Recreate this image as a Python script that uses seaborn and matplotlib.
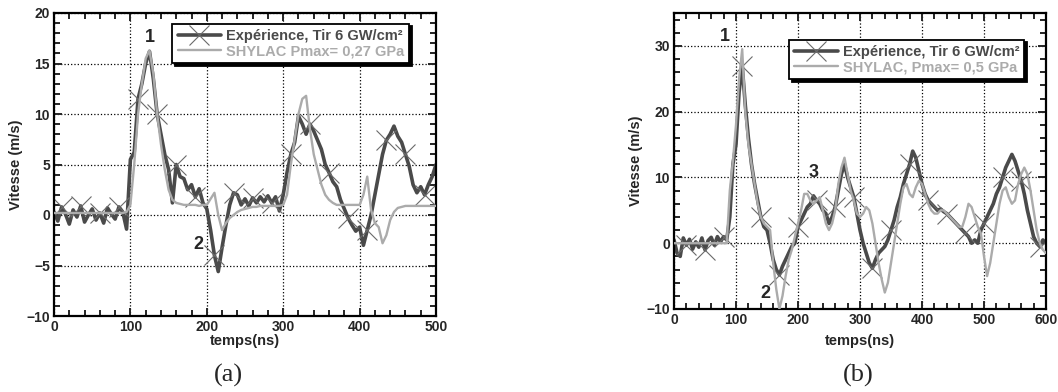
import numpy as np
import pandas as pd
import seaborn as sns
import matplotlib
matplotlib.use("Agg")
import matplotlib.pyplot as plt
from matplotlib.ticker import MultipleLocator
from matplotlib.lines import Line2D

# ---------------- data (panel a) ----------------
t_a = list(range(0, 501, 5))
exp_a = [0.3, -0.6, 0.8, 0.1, -0.9, 0.5, -0.2, 0.9, -0.7, 0.0,
         0.6, -0.5, 0.2, -0.8, 0.7, 0.1, -0.4, 0.8, 0.3, -1.4,
         5.5, 6.2, 11.5, 13.0, 15.0, 16.2, 13.5, 10.0, 8.0, 6.0,
         4.5, 1.2, 5.0, 3.8, 3.6, 2.5, 3.0, 1.8, 2.6, 1.2,
         0.6, -1.5, -4.0, -5.6, -3.2, -1.0, 1.0, 2.2, 2.0, 1.0,
         1.6, 0.9, 1.7, 1.2, 1.8, 1.3, 1.9, 1.2, 1.8, 0.4,
         2.0, 4.2, 6.0, 7.2, 9.8, 9.0, 8.0, 9.0, 8.3, 7.4,
         6.5, 5.0, 4.2, 3.3, 2.8, 1.5, 0.6, -0.3, -1.0, -1.6,
         -1.2, -3.0, -1.5, 0.0, 2.0, 4.0, 6.0, 7.4, 8.0, 8.8,
         7.8, 7.2, 6.0, 4.8, 3.0, 2.2, 2.8, 2.0, 3.0, 3.8,
         5.0]
sim_a = [0.2] * 19 + [
         0.3, 1.0, 5.0, 10.0, 13.0, 15.5, 16.3, 14.0, 10.0, 7.0,
         4.5, 2.5, 1.5, 1.2, 1.1, 1.0, 1.0, 1.0, 1.0, 0.9,
         1.0, 1.0, 1.6, 2.2, 0.0, -1.5, -0.8, -0.3, 0.0, 0.3,
         0.5, 0.6, 0.7, 0.8, 0.8, 0.9, 0.9, 0.9, 0.9, 0.9,
         0.9, 1.0, 2.0, 5.0, 7.5, 10.0, 11.5, 11.8, 8.5, 6.0,
         4.5, 3.0, 2.0, 1.5, 1.2, 1.0, 1.0, 1.0, 1.0, 1.0,
         1.0, 1.0, 2.0, 3.8, 0.5, -0.8, -1.2, -2.8, -2.0, -0.5,
         0.3, 0.7, 0.8] + [0.9] * 9

# ---------------- data (panel b) ----------------
t_b = list(range(0, 601, 5))
exp_b = [0.5, -1.5, -2.0, 0.8, -0.3, 0.6, -0.9, 0.2, -0.6, 0.8,
         -1.0, 0.4, 0.9, -0.3, 1.0, 0.2, 1.0, 0.5, 4.0, 12.0,
         15.0, 23.0, 27.0, 21.0, 16.0, 12.0, 9.0, 6.5, 4.0, 2.5,
         2.0, 0.0, -2.5, -4.0, -4.8, -3.5, -2.5, -1.5, -0.5, 0.0,
         2.5, 3.5, 4.5, 5.5, 6.0, 7.2, 6.5, 6.0, 5.0, 4.5,
         3.0, 4.0, 5.5, 8.0, 10.5, 12.0, 10.0, 8.5, 7.0, 4.5,
         2.0, 0.0, -1.5, -3.0, -3.8, -2.5, -1.5, -1.0, -0.5, 0.5,
         2.0, 3.5, 5.5, 7.0, 9.0, 10.5, 12.0, 14.0, 13.0, 11.0,
         9.0, 7.5, 6.5, 6.0, 5.5, 5.0, 5.2, 4.8, 4.5, 4.0,
         3.5, 3.0, 2.5, 2.0, 1.5, 1.0, 0.0, 0.5, 0.0, 2.0,
         3.0, 4.0, 5.0, 6.0, 7.5, 8.5, 10.0, 11.5, 12.5, 13.5,
         12.5, 11.0, 9.5, 7.5, 5.0, 3.0, 1.0, 0.0, -0.5, 0.5,
         0.0]
sim_b = [0.0] * 18 + [
         8.0, 12.5, 18.0, 25.0, 29.5, 20.0, 15.0, 12.0, 9.0, 6.0,
         4.0, 3.0, 2.5, 2.0, -3.0, -7.0, -10.0, -8.0, -5.0, -2.5,
         -1.0, 1.0, 3.0, 5.0, 7.5, 7.5, 6.5, 6.0, 6.5, 7.0,
         5.0, 3.0, 2.0, 3.0, 5.0, 9.0, 11.5, 13.0, 10.5, 8.0,
         6.5, 4.5, 4.0, 4.5, 5.5, 5.0, 3.0, 0.0, -3.0, -5.5,
         -7.5, -6.0, -3.0, 0.0, 3.0, 6.0, 8.5, 9.0, 7.5, 7.0,
         8.5, 9.5, 9.0, 7.5, 6.0, 5.0, 4.5, 4.5, 5.0, 5.0,
         4.5, 4.0, 3.5, 3.0, 2.5, 2.5, 4.0, 6.0, 5.5, 4.0,
         2.5, 1.5, -2.0, -5.0, -3.0, 0.0, 3.0, 6.0, 8.0, 8.5,
         7.0, 6.0, 6.5, 9.0, 10.5, 11.5, 10.5, 8.0, 5.0, 2.0,
         0.0, -1.0, -1.5]

labels_a = ["Expérience, Tir 6 GW/cm²", "SHYLAC Pmax= 0,27 GPa"]
labels_b = ["Expérience, Tir 6 GW/cm²", "SHYLAC, Pmax= 0,5 GPa"]
xlabel = "temps(ns)"
ylabel = "Vitesse (m/s)"

sns.set_style("ticks")
plt.rcParams["font.family"] = ["Liberation Sans", "DejaVu Sans"]
plt.rcParams["font.weight"] = "bold"

DARK = "#4a4a4a"
LIGHT = "#ababab"
MK = "#6a6a6a"

fig = plt.figure(figsize=(10.58, 3.92), dpi=100)
W, H = 1058, 392
ax_a = fig.add_axes([54 / W, (H - 316) / H, 382 / W, 303 / H])
ax_b = fig.add_axes([674 / W, (H - 309) / H, 372 / W, 296 / H])


def draw(ax, t, exp, sim, labels, xlim, ylim, xmaj, ymaj, ymin, me,
         leg_x, leg_top, xpad):
    sns.lineplot(x=t, y=sim, ax=ax, color=LIGHT, lw=1.7, zorder=3,
                 estimator=None, sort=False)
    sns.lineplot(x=t, y=exp, ax=ax, color=DARK, lw=2.6, zorder=2,
                 estimator=None, sort=False, marker="x", markersize=14,
                 markeredgewidth=0.8, markeredgecolor=MK,
                 markevery=me)
    ax.set_xlim(*xlim)
    ax.set_ylim(*ylim)
    ax.xaxis.set_major_locator(MultipleLocator(xmaj))
    ax.xaxis.set_minor_locator(MultipleLocator(20))
    ax.yaxis.set_major_locator(MultipleLocator(ymaj))
    ax.yaxis.set_minor_locator(MultipleLocator(ymin))
    ax.tick_params(which="both", direction="in", top=True, right=True,
                   width=1.4, labelsize=10, pad=3)
    ax.tick_params(which="major", length=6)
    ax.tick_params(which="minor", length=4)
    for s in ax.spines.values():
        s.set_linewidth(1.6)
        s.set_color("black")
    ax.grid(True, which="major", ls=":", color="black", lw=0.9)
    ax.set_axisbelow(True)
    ax.set_xlabel(xlabel, fontsize=10.5, fontweight="bold", labelpad=xpad)
    ax.set_ylabel(ylabel, fontsize=10.5, fontweight="bold", labelpad=2)
    handles = [Line2D([], [], color=DARK, lw=2.6, marker="x", markersize=14,
                      markeredgewidth=0.8, markeredgecolor=MK),
               Line2D([], [], color=LIGHT, lw=1.7)]
    leg = ax.legend(handles, labels, loc="upper left",
                    bbox_to_anchor=(leg_x, leg_top), frameon=True,
                    fancybox=False, shadow={"color": "black", "alpha": 1},
                    edgecolor="black", framealpha=1, fontsize=10.5,
                    handlelength=3.0, handletextpad=0.3, borderpad=0.35,
                    labelspacing=0.1, borderaxespad=0)
    leg.get_frame().set_linewidth(1.3)
    leg.set_zorder(10)
    txts = leg.get_texts()
    txts[0].set_color(DARK)
    txts[1].set_color(LIGHT)
    for tx in txts:
        tx.set_fontweight("bold")


draw(ax_a, t_a, exp_a, sim_a, labels_a, (0, 500), (-10, 20), 100, 5, 1,
     (2, 5), 0.31, 0.965, 0)
draw(ax_b, t_b, exp_b, sim_b, labels_b, (0, 600), (-10, 35), 100, 10, 2,
     (4, 6), 0.31, 0.91, 5)

kw = dict(fontsize=13, fontweight="bold", ha="center", va="center")
ax_a.text(126, 17.6, "1", **kw)
ax_a.text(189, -2.9, "2", **kw)
ax_b.text(82, 31.5, "1", **kw)
ax_b.text(147, -7.6, "2", **kw)
ax_b.text(225, 10.7, "3", **kw)

cap = dict(fontsize=19, ha="center", va="center",
           family=["Liberation Serif", "DejaVu Serif"], fontweight="normal")
fig.text(228 / W, 1 - 375 / H, "(a)", **cap)
fig.text(858 / W, 1 - 375 / H, "(b)", **cap)

fig.savefig("out.png", dpi=100)
